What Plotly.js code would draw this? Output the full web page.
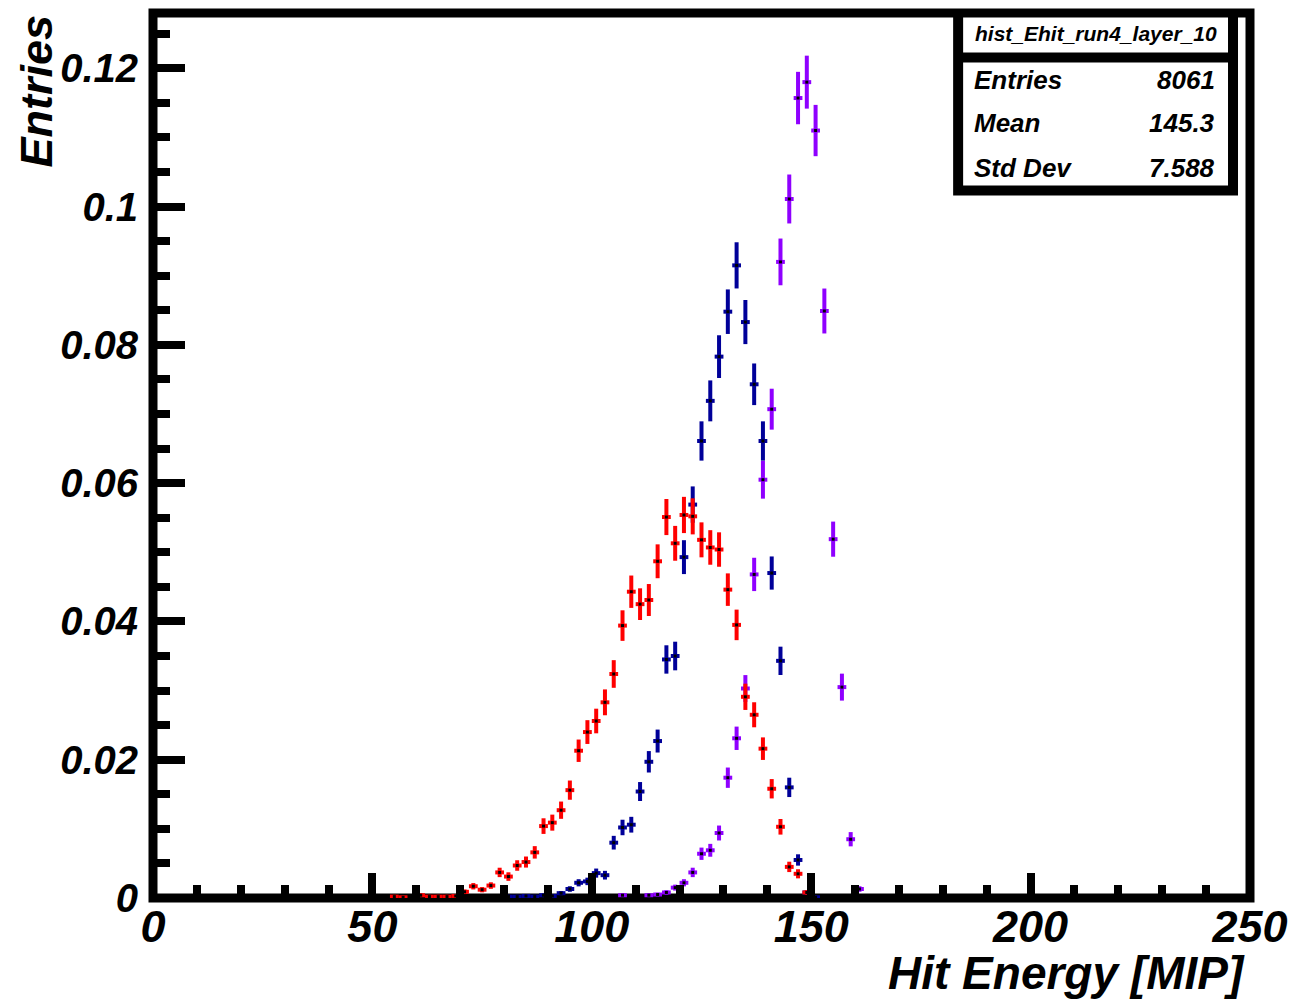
<!DOCTYPE html>
<html>
<head>
<meta charset="utf-8">
<script src="https://cdn.plot.ly/plotly-3.0.1.min.js"></script>
<style>html,body{margin:0;padding:0;background:#fff;}#chart{width:1294px;height:999px;}</style>
</head>
<body>
<div id="chart"></div>
<script>
// ---- data (bin centres in MIP, normalised entries, statistical errors) ----
const redX = [55,57,61,63,65,67,69,71,73,75,77,79,81,83,85,87,89,91,93,95,97,99,101,103,105,107,109,111,113,115,117,119,121,123,125,127,129,131,133,135,137,139,141,143,145,147,149];
const redY = [0.0002,0.0001,0.0004,0.0002,0.0002,0.0002,0.0003,0.0009,0.0017,0.0012,0.0018,0.0037,0.0031,0.0047,0.0052,0.0066,0.0104,0.0109,0.0127,0.0156,0.0213,0.0240,0.0256,0.0283,0.0324,0.0394,0.0443,0.0425,0.0431,0.0487,0.0551,0.0513,0.0554,0.0552,0.0518,0.0507,0.0504,0.0446,0.0395,0.0291,0.0265,0.0216,0.0158,0.0103,0.0045,0.0035,0.0008];
const redErr = [0.00016,0.00011,0.00022,0.00016,0.00016,0.00016,0.00019,0.00033,0.00046,0.00038,0.00047,0.00068,0.00062,0.00076,0.0008,0.0009,0.00113,0.00116,0.00125,0.00139,0.00162,0.00172,0.00178,0.00187,0.002,0.00221,0.00234,0.00229,0.00231,0.00245,0.00261,0.00252,0.00262,0.00261,0.00253,0.0025,0.00249,0.00235,0.00221,0.0019,0.00181,0.00163,0.0014,0.00113,0.00075,0.00066,0.00031];

const blueX = [81,83,85,87,89,91,93,95,97,99,101,103,105,107,109,111,113,115,117,119,121,123,125,127,129,131,133,135,137,139,141,143,145,147,149,151];
const blueY = [0.0002,0.0002,0.0003,0.0002,0.0004,0.0003,0.0007,0.0013,0.0022,0.0024,0.0036,0.0033,0.0080,0.0102,0.0106,0.0154,0.0197,0.0227,0.0345,0.0350,0.0493,0.0569,0.0661,0.0719,0.0783,0.0848,0.0915,0.0833,0.0743,0.0661,0.0470,0.0343,0.0160,0.0055,0.0008,0.0001];
const blueErr = [0.00016,0.00016,0.00019,0.00016,0.00022,0.00019,0.00029,0.0004,0.00052,0.00054,0.00066,0.00063,0.00099,0.00112,0.00114,0.00137,0.00155,0.00166,0.00205,0.00207,0.00245,0.00263,0.00284,0.00296,0.00309,0.00322,0.00334,0.00319,0.00301,0.00284,0.0024,0.00205,0.0014,0.00082,0.00031,0.00011];

const violetX = [107,113,115,117,119,121,123,125,127,129,131,133,135,137,139,141,143,145,147,149,151,153,155,157,159,161];
const violetY = [0.0004,0.0004,0.0005,0.0008,0.0015,0.0022,0.0037,0.0064,0.0069,0.0094,0.0174,0.0231,0.0303,0.0468,0.0605,0.0707,0.0920,0.1011,0.1157,0.1180,0.1110,0.0849,0.0519,0.0305,0.0085,0.0013];
const violetErr = [0.00022,0.00022,0.00025,0.00032,0.00043,0.00052,0.00068,0.00089,0.00093,0.00108,0.00147,0.00169,0.00194,0.00241,0.00274,0.00296,0.00338,0.00354,0.00379,0.00383,0.00371,0.00325,0.00254,0.00195,0.00103,0.0004];

const binHalfWidth = 1;
const statsTitle = "hist_Ehit_run4_layer_10";
const statsNames = ["Entries","Mean","Std Dev"];
const statsValues = ["8061","145.3","7.588"];
const xTitle = "Hit Energy [MIP]";
const yTitle = "Entries";

// ---- drawing ----
const FAM = "Liberation Sans, Arial, Helvetica, sans-serif";
function bi(size){ return {family: FAM, size: size, color: "black", weight: "bold", style: "italic"}; }

function series(x, y, e, col){
  return {
    type: "scatter", mode: "markers", x: x, y: y, showlegend: false, hoverinfo: "skip", cliponaxis: false,
    marker: {color: "black", size: 3, symbol: "square"},
    error_y: {type: "data", array: e, visible: true, color: col, thickness: 4, width: 0},
    error_x: {type: "constant", value: binHalfWidth, visible: true, color: col, thickness: 4, width: 0}
  };
}

const traces = [
  series(violetX, violetY, violetErr, "#8f00ff"),
  series(blueX, blueY, blueErr, "#000099"),
  series(redX, redY, redErr, "#ff0000")
];

const L = 152.5, R = 1250, T = 12.5, B = 898;
const pw = R - L, ph = B - T;
const px = p => (p - L) / pw;
const py = p => (B - p) / ph;

const shapes = [
  {type:"rect", xref:"paper", yref:"paper", x0:0, x1:1, y0:0, y1:1, line:{color:"black", width:9}, layer:"below"},
  {type:"rect", xref:"paper", yref:"paper", x0:px(953), x1:px(1238), y0:py(195), y1:py(10), fillcolor:"black", line:{width:0}, layer:"above"},
  {type:"rect", xref:"paper", yref:"paper", x0:px(963), x1:px(1228), y0:py(52), y1:py(17), fillcolor:"white", line:{width:0}, layer:"above"},
  {type:"rect", xref:"paper", yref:"paper", x0:px(963), x1:px(1228), y0:py(185), y1:py(62), fillcolor:"white", line:{width:0}, layer:"above"}
];

const rowsY = [80, 123, 168];
const annotations = [
  {xref:"paper", yref:"paper", x:px(1095.5), y:py(33), xanchor:"center", yanchor:"middle", text:statsTitle, showarrow:false, font:bi(21)},
  {xref:"paper", yref:"paper", x:px(1247), y:py(973), xanchor:"right", yanchor:"middle", text:xTitle, showarrow:false, font:bi(46)},
  {xref:"paper", yref:"paper", x:px(35), y:py(12), xanchor:"center", yanchor:"top", text:yTitle, textangle:-90, showarrow:false, font:bi(45)}
];
statsNames.forEach((n, i) => {
  annotations.push({xref:"paper", yref:"paper", x:px(972), y:py(rowsY[i]), xanchor:"left", yanchor:"middle", text:n, showarrow:false, font:bi(26)});
  annotations.push({xref:"paper", yref:"paper", x:px(1217), y:py(rowsY[i]), xanchor:"right", yanchor:"middle", text:statsValues[i], showarrow:false, font:bi(26)});
});

const layout = {
  width: 1294, height: 999,
  margin: {l: L, r: 1294 - R, t: T, b: 999 - B, pad: 0},
  paper_bgcolor: "white", plot_bgcolor: "white",
  showlegend: false,
  xaxis: {
    range: [0, 250], dtick: 50, tick0: 0, showgrid: false, zeroline: false, showline: false,
    ticks: "inside", ticklen: 25, tickwidth: 8, tickcolor: "black",
    minor: {dtick: 10, tick0: 0, ticks: "inside", ticklen: 13, tickwidth: 8, tickcolor: "black", showgrid: false},
    tickfont: bi(45), ticklabelstandoff: -2
  },
  yaxis: {
    range: [0, 0.128], dtick: 0.02, tick0: 0, showgrid: false, zeroline: false, showline: false,
    ticks: "inside", ticklen: 32, tickwidth: 8, tickcolor: "black",
    minor: {dtick: 0.005, tick0: 0, ticks: "inside", ticklen: 17, tickwidth: 8, tickcolor: "black", showgrid: false},
    tickfont: bi(40), ticklabelstandoff: 14
  },
  shapes: shapes,
  annotations: annotations
};

Plotly.newPlot("chart", traces, layout, {displayModeBar: false, staticPlot: true});
</script>
</body>
</html>
